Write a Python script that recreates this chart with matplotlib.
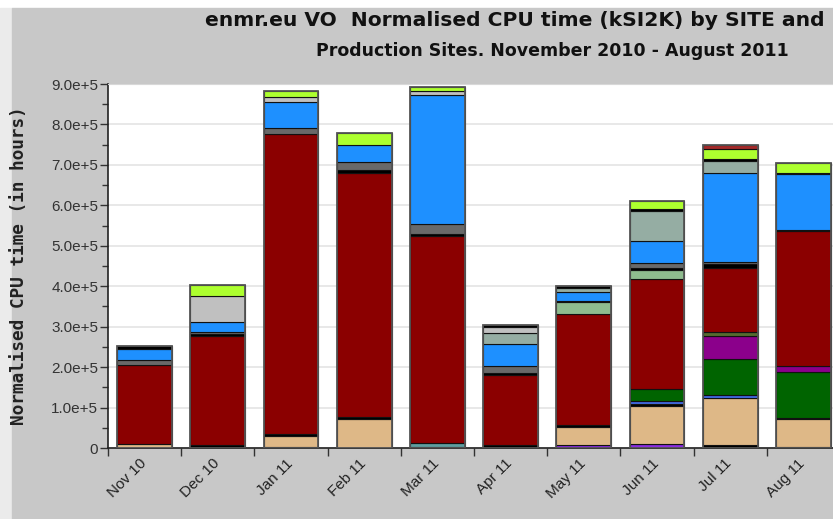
import numpy as np
import matplotlib.pyplot as plt
from matplotlib.patches import Rectangle
from matplotlib.ticker import FuncFormatter, MultipleLocator

months = ["Nov 10", "Dec 10", "Jan 11", "Feb 11", "Mar 11",
          "Apr 11", "May 11", "Jun 11", "Jul 11", "Aug 11"]

# normalised CPU hours per site, stacked from bottom to top
black_1 = [0, 8000, 3000, 0, 3000, 7000, 0, 0, 8000, 3000]
violet = [0, 0, 0, 0, 0, 0, 8000, 10000, 0, 0]
cadet = [0, 0, 0, 0, 10000, 0, 0, 0, 0, 0]
tan = [10000, 0, 27000, 71000, 0, 0, 45000, 94000, 115000, 68000]
black_2 = [0, 0, 5000, 5000, 0, 0, 5000, 5000, 0, 4000]
royal = [0, 0, 0, 0, 0, 0, 0, 6000, 8000, 0]
dgreen = [0, 0, 0, 0, 0, 0, 0, 30000, 89000, 112000]
magenta = [0, 0, 0, 0, 0, 0, 0, 0, 58000, 16000]
olive = [0, 0, 0, 0, 0, 0, 0, 0, 8000, 0]
dred = [196000, 268000, 741000, 605000, 511000, 174000, 273000, 272000, 159000, 333000]
black_3 = [0, 6000, 0, 7000, 6000, 4000, 0, 0, 10000, 4000]
seagreen = [0, 0, 0, 0, 0, 0, 29000, 23000, 0, 0]
black_4 = [0, 0, 0, 0, 0, 0, 0, 5000, 0, 0]
dimgray = [11000, 5000, 15000, 20000, 25000, 18000, 4000, 13000, 4000, 0]
dblue = [28000, 25000, 64000, 42000, 319000, 55000, 21000, 54000, 221000, 137000]
graygreen = [0, 0, 0, 0, 0, 26000, 10000, 74000, 29000, 0]
silver = [0, 63000, 14000, 0, 8000, 15000, 0, 0, 0, 0]
black_5 = [6000, 0, 0, 0, 0, 6000, 5000, 6000, 6000, 4000]
lime = [0, 27000, 13000, 28000, 10000, 0, 0, 19000, 25000, 23000]
brown = [0, 0, 0, 0, 0, 0, 0, 0, 9000, 0]

series = [
    (black_1, "#000000"), (violet, "#8a2be2"), (cadet, "#5f9ea0"),
    (tan, "#deb887"), (black_2, "#000000"), (royal, "#4169e1"),
    (dgreen, "#006400"), (magenta, "#8b008b"), (olive, "#556b2f"),
    (dred, "#8b0000"), (black_3, "#000000"), (seagreen, "#8fbc8f"),
    (black_4, "#000000"), (dimgray, "#696969"), (dblue, "#1e90ff"),
    (graygreen, "#95ada3"), (silver, "#c0c0c0"), (black_5, "#000000"),
    (lime, "#adff2f"), (brown, "#a52a2a"),
]

W, H = 833, 519
fig = plt.figure(figsize=(W / 100, H / 100), dpi=100, facecolor="white")
fig.patches.append(Rectangle((0, 0), 12 / W, 511 / H, transform=fig.transFigure,
                             color="#ebebeb", zorder=-10))
fig.patches.append(Rectangle((12 / W, 0), (W - 12) / W, 511 / H, transform=fig.transFigure,
                             color="#c8c8c8", zorder=-10))

ax = fig.add_axes([108 / W, 71 / H, 732 / W, 364 / H])
ax.set_facecolor("white")

x = np.arange(len(months))
width = 0.75
bottom = np.zeros(len(months))
for vals, color in series:
    vals = np.array(vals, dtype=float)
    m = vals > 0
    ax.bar(x[m], vals[m], width, bottom=bottom[m], color=color,
           edgecolor="#111111", linewidth=0.8, zorder=3)
    bottom += vals
# outer outline of each stacked bar
ax.bar(x, bottom, width, facecolor="none", edgecolor="#555555", linewidth=1.3, zorder=4)

ax.set_xlim(-0.5, len(months) - 0.5)
ax.set_ylim(0, 9e5)
ax.yaxis.set_major_locator(MultipleLocator(1e5))
ax.yaxis.set_minor_locator(MultipleLocator(5e4))
ax.yaxis.set_major_formatter(FuncFormatter(lambda v, p: "0" if v == 0 else f"{v / 1e5:.1f}e+5"))
ax.grid(axis="y", color="#e6e6e6", linewidth=1.3, zorder=0)

ax.set_xticks(x + 0.06)
ax.set_xticklabels(months, rotation=45, ha="right", va="top", fontsize=11,
                   family="Liberation Sans", color="#222222")
ax.set_xticks(np.arange(-0.5, len(months), 1.0), minor=True)
ax.tick_params(axis="x", which="major", length=0, pad=6)
ax.tick_params(axis="x", which="minor", length=6, width=1, color="#333333")
ax.tick_params(axis="y", which="major", length=6, width=1, color="#333333",
               labelsize=11, labelcolor="#333333", pad=1)
ax.tick_params(axis="y", which="minor", length=4, width=1, color="#333333")
for lab in ax.get_yticklabels():
    lab.set_family("Liberation Sans")

ax.spines["right"].set_visible(False)
ax.spines["top"].set_color("#d8d8d8")
for s in ["left", "bottom"]:
    ax.spines[s].set_color("#222222")
    ax.spines[s].set_linewidth(1.2)

fig.text(205 / W, 1 - 21 / H, "enmr.eu VO  Normalised CPU time (kSI2K) by SITE and",
         ha="left", va="center", fontsize=14.6, fontweight="bold",
         family="DejaVu Sans", color="#111111")
fig.text(316 / W, 1 - 51 / H, "Production Sites. November 2010 - August 2011",
         ha="left", va="center", fontsize=12.5, fontweight="bold",
         family="DejaVu Sans", color="#111111")
fig.text(19 / W, 1 - 266 / H, "Normalised CPU time (in hours)", rotation=90,
         ha="center", va="center", fontsize=12.8, fontweight="bold",
         family="DejaVu Sans Mono", color="#222222")

fig.savefig("out.png", dpi=100)
